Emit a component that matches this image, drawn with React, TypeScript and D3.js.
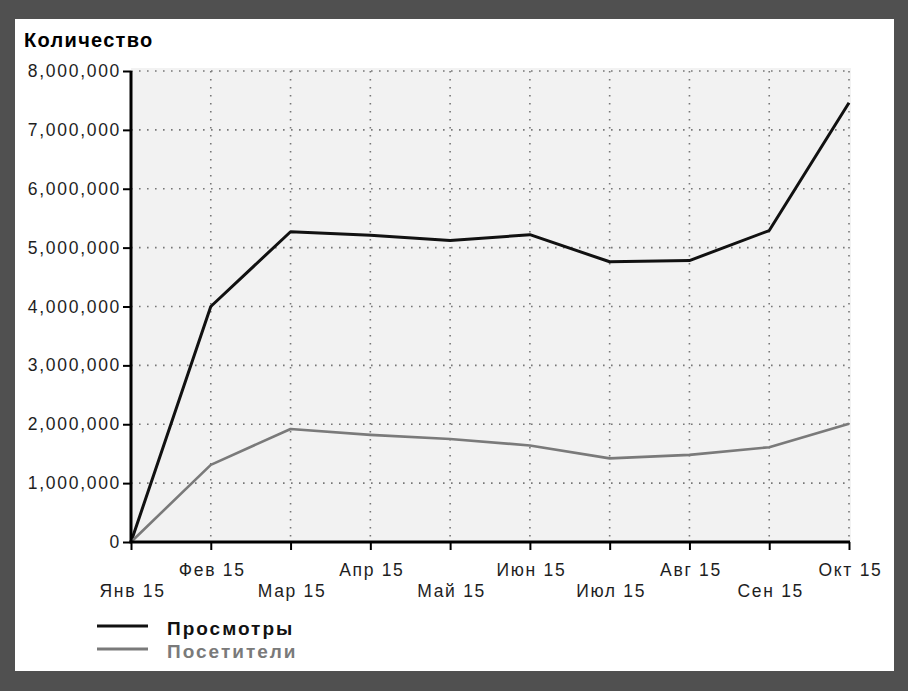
import React, { useEffect, useRef } from 'react'
import * as d3 from 'd3'

const months = ['Янв 15', 'Фев 15', 'Мар 15', 'Апр 15', 'Май 15', 'Июн 15', 'Июл 15', 'Авг 15', 'Сен 15', 'Окт 15']
const views = [0, 4000000, 5270000, 5210000, 5120000, 5220000, 4760000, 4780000, 5290000, 7460000]
const visitors = [0, 1310000, 1920000, 1820000, 1750000, 1640000, 1420000, 1480000, 1610000, 2010000]
const yTicks = [0, 1000000, 2000000, 3000000, 4000000, 5000000, 6000000, 7000000, 8000000]
const seriesNames = ['Просмотры', 'Посетители']
const seriesColors = ['#111111', '#7a7a7a']

const FONT = '"Liberation Sans", Arial, sans-serif'

export default function App() {
  const ref = useRef<SVGSVGElement>(null)

  useEffect(() => {
    const svg = d3.select(ref.current)
    svg.selectAll('*').remove()

    const W = 908, H = 691
    const left = 131, right = 849, top = 71, bottom = 542

    svg.append('rect').attr('width', W).attr('height', H).attr('fill', '#505050')
    svg.append('rect').attr('x', 15).attr('y', 19).attr('width', 879).attr('height', 652).attr('fill', '#ffffff')

    const x = d3.scalePoint<string>().domain(months).range([left, right])
    const y = d3.scaleLinear().domain([0, 8000000]).range([bottom, top])

    svg.append('rect')
      .attr('x', left).attr('y', top - 3)
      .attr('width', right - left + 2).attr('height', bottom - top + 3)
      .attr('fill', '#f2f2f2')

    // grid
    const grid = svg.append('g').attr('stroke', '#777').attr('stroke-width', 1.6).attr('stroke-dasharray', '1.6,6.4')
    grid.selectAll('.gy').data(yTicks.slice(1)).enter().append('line')
      .attr('x1', left).attr('x2', right)
      .attr('y1', d => y(d)).attr('y2', d => y(d))
    grid.selectAll('.gx').data(months.slice(1)).enter().append('line')
      .attr('x1', d => x(d)!).attr('x2', d => x(d)!)
      .attr('y1', top).attr('y2', bottom)

    // lines
    const line = d3.line<number>()
      .x((d, i) => x(months[i])!)
      .y(d => y(d))
    ;[views, visitors].forEach((s, i) => {
      svg.append('path')
        .datum(s)
        .attr('d', line)
        .attr('fill', 'none')
        .attr('stroke', seriesColors[i])
        .attr('stroke-width', i === 0 ? 3 : 2.6)
        .attr('stroke-linejoin', 'round')
    })

    // axes
    const yAxis = svg.append('g')
      .attr('transform', `translate(${left},0)`)
      .call(d3.axisLeft(y).tickValues(yTicks).tickSize(8).tickPadding(4).tickFormat(d3.format(',')))
    yAxis.select('.domain').attr('stroke', '#000').attr('stroke-width', 3)
      .attr('d', `M0,${top}V${bottom}`)
    yAxis.selectAll('.tick line').attr('stroke', '#000').attr('stroke-width', 2)
    yAxis.selectAll('.tick text')
      .attr('fill', '#1e1e1e').style('font-family', FONT).style('font-size', '17.5px')
      .style('letter-spacing', '1.7px').attr('dx', '2')

    const xAxis = svg.append('g')
      .attr('transform', `translate(0,${bottom})`)
      .call(d3.axisBottom(x).tickSize(8).tickSizeOuter(0))
    xAxis.select('.domain').attr('stroke', '#000').attr('stroke-width', 3)
      .attr('d', `M${left - 1.5},0H${right + 1}`)
    xAxis.selectAll('.tick line').attr('stroke', '#000').attr('stroke-width', 2)
    xAxis.selectAll('.tick text')
      .attr('fill', '#1e1e1e').style('font-family', FONT).style('font-size', '17.5px')
      .style('letter-spacing', '1.7px')
      .attr('dy', null)
      .attr('y', (d, i) => (i % 2 === 0 ? 55 : 34))
      .attr('dx', '1')

    // title
    svg.append('text')
      .attr('x', 24).attr('y', 47)
      .attr('fill', '#000')
      .style('font-family', FONT).style('font-size', '20px').style('font-weight', 'bold')
      .style('letter-spacing', '1.3px')
      .text('Количество')

    // legend
    const legend = svg.append('g')
    seriesNames.forEach((name, i) => {
      const ly = 626 + i * 23
      legend.append('line')
        .attr('x1', 97).attr('x2', 148).attr('y1', ly).attr('y2', ly)
        .attr('stroke', seriesColors[i]).attr('stroke-width', 3)
      legend.append('text')
        .attr('x', 167).attr('y', ly + 9)
        .attr('fill', seriesColors[i])
        .style('font-family', FONT).style('font-size', '19px').style('font-weight', 'bold')
        .style('letter-spacing', '2px')
        .text(name)
    })
  }, [])

  return (
    <svg ref={ref} width={908} height={691} style={{ position: 'absolute', left: 0, top: 0, display: 'block' }} />
  )
}
